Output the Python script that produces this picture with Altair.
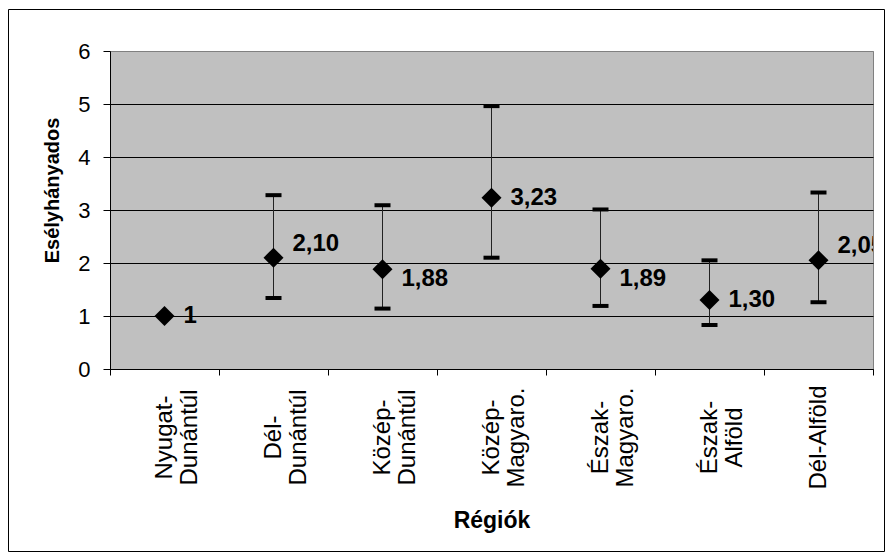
import altair as alt
import pandas as pd

# ---- data ----
regions = ["Nyugat-\nDunántúl", "Dél-\nDunántúl", "Közép-\nDunántúl", "Közép-\nMagyaro.",
           "Észak-\nMagyaro.", "Észak-\nAlföld", "Dél-Alföld"]
odds = [1.00, 2.10, 1.88, 3.23, 1.89, 1.30, 2.05]
lower = [None, 1.34, 1.14, 2.10, 1.19, 0.83, 1.26]
upper = [None, 3.28, 3.09, 4.96, 3.01, 2.05, 3.33]
labels = ["1", "2,10", "1,88", "3,23", "1,89", "1,30", "2,05"]
label_pos = ["right", "up", "down", "right", "down", "right", "up"]
y_ticks = [0, 1, 2, 3, 4, 5, 6]

df = pd.DataFrame({"region": regions, "odds": odds, "lower": lower, "upper": upper,
                   "label": labels, "pos": label_pos})
ci = df.dropna(subset=["lower"])

FONT = "Liberation Sans"

x_enc = alt.X(
    "region:N", sort=regions, title="Régiók",
    axis=alt.Axis(
        labelAngle=270, labelAlign="center", labelBaseline="middle",
        labelFont=FONT, labelFontSize=24, labelColor="black",
        labelPadding=62, labelLineHeight=25, labelLimit=0, labelOverlap=False,
        labelExpr="split(datum.label, '\\n')",
        tickBand="extent", tickSize=6, tickColor="black",
        domainColor="black", grid=False,
        titleFont=FONT, titleFontSize=23, titleFontWeight="bold", titleColor="black",
        titleY=158, titleBaseline="alphabetic",
    ),
)
y_scale = alt.Scale(domain=[0, 6], nice=False, zero=True)
y_axis = alt.Axis(
    values=y_ticks, format="d", grid=True,
    gridColor={"condition": {"test": "datum.value === 6", "value": "#808080"}, "value": "black"},
    gridOpacity=1, gridWidth=1,
    tickSize=7, tickColor="black", domainColor="black",
    labelFont=FONT, labelFontSize=22, labelColor="black", labelPadding=13,
    title="Esélyhányados", titleFont=FONT, titleFontSize=20, titleFontWeight="bold",
    titleColor="black", titleAngle=270, titleAlign="center", titleBaseline="alphabetic",
    titleX=-52, titleY=139,
)

frame = alt.Chart(pd.DataFrame({"f": [0]})).mark_rect(
    filled=False, stroke="black", strokeWidth=1
).encode(
    x=alt.value(-101.5), x2=alt.value(774.5), y=alt.value(-41.5), y2=alt.value(500.5)
)

rules = alt.Chart(ci).mark_rule(color="#222222", strokeWidth=1).encode(
    x=x_enc,
    y=alt.Y("lower:Q", scale=y_scale, axis=y_axis),
    y2="upper:Q",
)
caps_lo = alt.Chart(ci).mark_tick(color="black", thickness=4, size=16, opacity=1).encode(
    x=x_enc, y=alt.Y("lower:Q", scale=y_scale, axis=y_axis)
)
caps_hi = alt.Chart(ci).mark_tick(color="black", thickness=4, size=16, opacity=1).encode(
    x=x_enc, y=alt.Y("upper:Q", scale=y_scale, axis=y_axis)
)
points = alt.Chart(df).mark_point(shape="diamond", filled=True, color="black",
                                  size=400, opacity=1).encode(
    x=x_enc, y=alt.Y("odds:Q", scale=y_scale, axis=y_axis)
)

offsets = {"right": 0, "up": -14, "down": 10}
texts = []
for pos, dy in offsets.items():
    texts.append(
        alt.Chart(df).transform_filter(alt.datum.pos == pos).mark_text(
            align="left", baseline="middle", dx=19, dy=dy, clip=True,
            font=FONT, fontSize=24, fontWeight="bold", color="black",
        ).encode(
            x=x_enc, y=alt.Y("odds:Q", scale=y_scale, axis=y_axis), text="label:N"
        )
    )

chart = alt.layer(frame, rules, caps_lo, caps_hi, points, *texts).properties(
    width=763, height=318,
    padding={"left": 8, "top": 9, "right": 1, "bottom": 6},
    background="white",
).configure_view(
    fill="#C0C0C0", stroke="#808080", strokeWidth=1
)

chart.save("out.html", embed_options={"renderer": "svg", "actions": False})
